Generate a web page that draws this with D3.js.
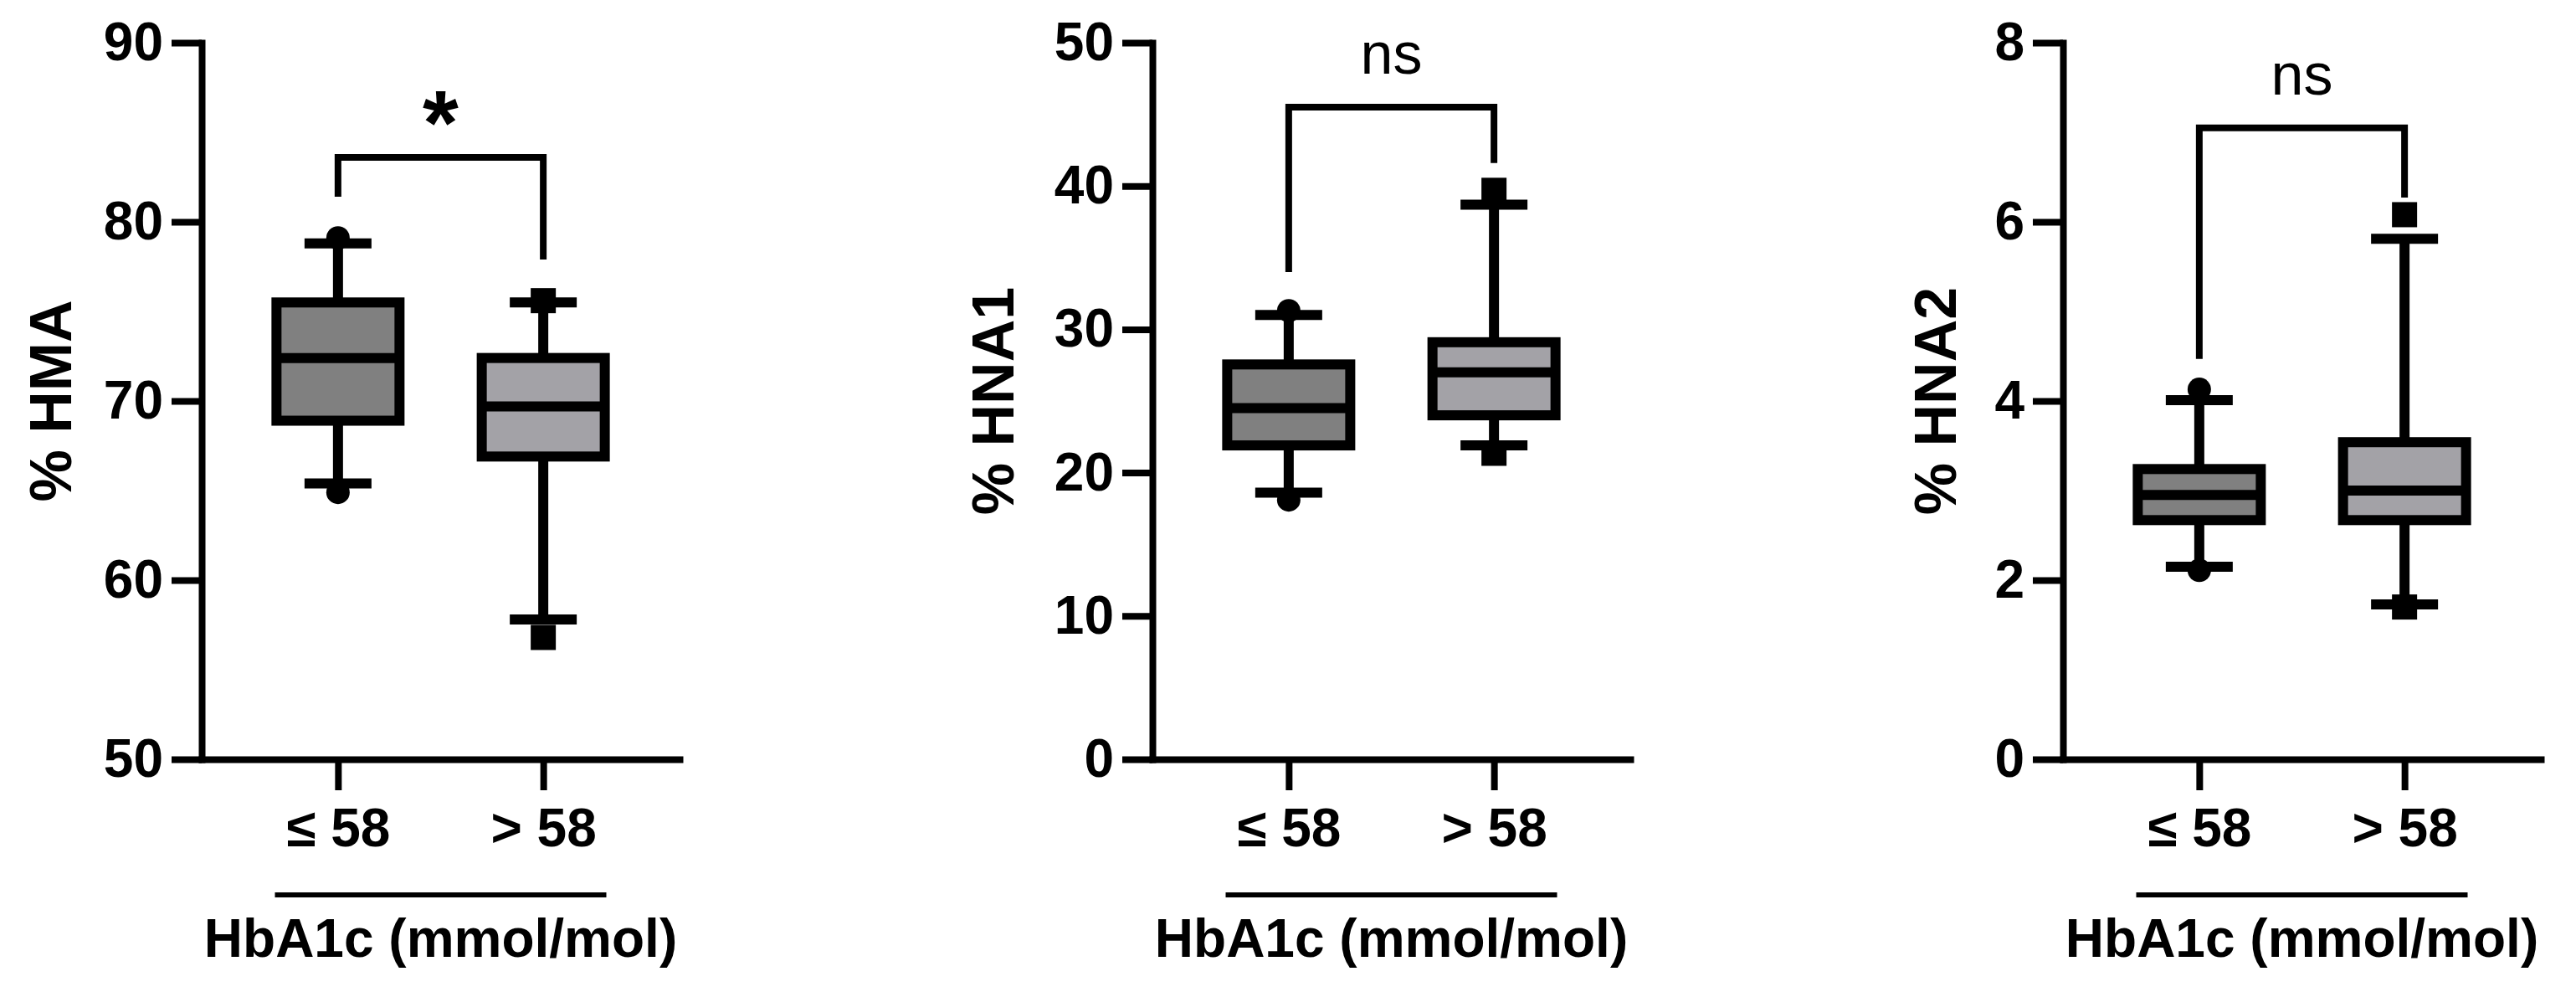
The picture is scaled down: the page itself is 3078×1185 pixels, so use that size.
<!DOCTYPE html>
<html>
<head>
<meta charset="utf-8">
<script src="https://cdn.jsdelivr.net/npm/d3@7"></script>
<style>
  body { margin: 0; background: #fff; }
  svg { display: block; }
</style>
</head>
<body>
<svg id="chart"></svg>
<script>
// categories shared by all three panels
const categories = ['≤ 58', '> 58'];
const xTitle = 'HbA1c (mmol/mol)';

// box stats: [whisker low, Q1, median, Q3, whisker high]
const hmaBoxes = [[65.4, 68.9, 72.4, 75.5, 78.8], [57.8, 66.9, 69.7, 72.4, 75.5]];
const hmaPoints = [[64.9, 79.1], [56.8, 75.6]];
const hmaTicks = [50, 60, 70, 80, 90];
const hmaBracket = [81.4, 83.6, 77.9]; // left foot, top, right foot

const hna1Boxes = [[18.6, 21.9, 24.5, 27.55, 31.0], [21.9, 24.0, 27.0, 29.1, 38.7]];
const hna1Points = [[18.1, 31.3], [21.35, 39.7]];
const hna1Ticks = [0, 10, 20, 30, 40, 50];
const hna1Bracket = [34.0, 45.5, 41.6];

const hna2Boxes = [[2.15, 2.67, 2.95, 3.24, 4.01], [1.73, 2.67, 3.0, 3.54, 5.81]];
const hna2Points = [[2.11, 4.13], [1.70, 6.08]];
const hna2Ticks = [0, 2, 4, 6, 8];
const hna2Bracket = [4.47, 7.05, 6.27];

const yLabels = ['% HMA', '% HNA1', '% HNA2'];
const sigLabels = ['*', 'ns', 'ns'];

const W = 3078, H = 1185;
const FONT = '"Liberation Sans", Arial, sans-serif';
const boxFills = ['#808080', '#a3a2a7'];

const panels = [
  { left: 241, labelOff: 156, boxes: hmaBoxes, points: hmaPoints, ticks: hmaTicks, bracket: hmaBracket },
  { left: 1377, labelOff: 166, boxes: hna1Boxes, points: hna1Points, ticks: hna1Ticks, bracket: hna1Bracket },
  { left: 2465, labelOff: 128, boxes: hna2Boxes, points: hna2Points, ticks: hna2Ticks, bracket: hna2Bracket }
];

const svg = d3.select('#chart')
  .attr('width', W)
  .attr('height', H)
  .style('background', '#fff');

const yTop = 51, yBot = 907, axisLen = 571;
const boxW = 147, capW = 80, lw = 12;

panels.forEach((p, i) => {
  const g = svg.append('g').attr('transform', `translate(${p.left},0)`);

  const y = d3.scaleLinear().domain(d3.extent(p.ticks)).range([yBot, yTop]);
  const x = d3.scalePoint().domain(categories).range([0, axisLen]).padding(0.664);

  // axes
  const yAxis = g.append('g')
    .call(d3.axisLeft(y).tickValues(p.ticks).tickSize(36).tickSizeOuter(0).tickPadding(10))
    .attr('font-family', FONT)
    .attr('font-size', 64)
    .attr('font-weight', 'bold');
  const xAxis = g.append('g')
    .attr('transform', `translate(0,${yBot})`)
    .call(d3.axisBottom(x).tickSize(37).tickSizeOuter(0).tickPadding(22))
    .attr('font-family', FONT)
    .attr('font-size', 64)
    .attr('font-weight', 'bold');
  [yAxis, xAxis].forEach(a => {
    a.select('.domain').attr('stroke', '#000').attr('stroke-width', 8).attr('stroke-linecap', 'square');
    a.selectAll('.tick line').attr('stroke', '#000').attr('stroke-width', 8);
    a.selectAll('.tick text').attr('fill', '#000');
  });

  // y title
  g.append('text')
    .attr('transform', `translate(${-p.labelOff},${(yTop + yBot) / 2}) rotate(-90)`)
    .attr('text-anchor', 'middle')
    .attr('font-family', FONT)
    .attr('font-size', 70)
    .attr('font-weight', 'bold')
    .text(yLabels[i]);

  // x title with line above it
  const mid = (x(categories[0]) + x(categories[1])) / 2;
  g.append('line')
    .attr('x1', mid - 198).attr('x2', mid + 198)
    .attr('y1', 1069).attr('y2', 1069)
    .attr('stroke', '#000').attr('stroke-width', 6);
  g.append('text')
    .attr('x', mid).attr('y', 1143)
    .attr('text-anchor', 'middle')
    .attr('font-family', FONT)
    .attr('font-size', 64)
    .attr('font-weight', 'bold')
    .text(xTitle);

  // boxes
  const bg = g.selectAll('.box')
    .data(p.boxes.map((b, j) => ({ cat: categories[j], b, pts: p.points[j], j })))
    .join('g')
    .attr('class', 'box');

  // whiskers
  bg.append('line')
    .attr('x1', d => x(d.cat)).attr('x2', d => x(d.cat))
    .attr('y1', d => y(d.b[0])).attr('y2', d => y(d.b[4]))
    .attr('stroke', '#000').attr('stroke-width', lw);
  bg.selectAll('.cap')
    .data(d => [d.b[0], d.b[4]].map(v => ({ v, cat: d.cat })))
    .join('line')
    .attr('class', 'cap')
    .attr('x1', d => x(d.cat) - capW / 2).attr('x2', d => x(d.cat) + capW / 2)
    .attr('y1', d => y(d.v)).attr('y2', d => y(d.v))
    .attr('stroke', '#000').attr('stroke-width', lw);

  bg.append('rect')
    .attr('x', d => x(d.cat) - boxW / 2)
    .attr('width', boxW)
    .attr('y', d => y(d.b[3]))
    .attr('height', d => y(d.b[1]) - y(d.b[3]))
    .attr('fill', d => boxFills[d.j])
    .attr('stroke', '#000')
    .attr('stroke-width', lw);
  bg.append('line')
    .attr('x1', d => x(d.cat) - boxW / 2).attr('x2', d => x(d.cat) + boxW / 2)
    .attr('y1', d => y(d.b[2])).attr('y2', d => y(d.b[2]))
    .attr('stroke', '#000').attr('stroke-width', lw);

  // extreme points: circles for first group, squares for second
  bg.each(function (d) {
    const sel = d3.select(this);
    d.pts.forEach(v => {
      if (d.j === 0) {
        sel.append('circle').attr('cx', x(d.cat)).attr('cy', y(v)).attr('r', 14).attr('fill', '#000');
      } else {
        sel.append('rect').attr('x', x(d.cat) - 15).attr('y', y(v) - 15)
          .attr('width', 30).attr('height', 30).attr('fill', '#000');
      }
    });
  });

  // significance bracket
  const br = p.bracket;
  const x0 = x(categories[0]), x1 = x(categories[1]);
  g.append('path')
    .attr('d', `M${x0},${y(br[0])}V${y(br[1])}H${x1}V${y(br[2])}`)
    .attr('fill', 'none')
    .attr('stroke', '#000')
    .attr('stroke-width', 8);
  const star = sigLabels[i] === '*';
  g.append('text')
    .attr('x', (x0 + x1) / 2)
    .attr('y', star ? y(br[1]) - 4 : y(br[1]) - 40)
    .attr('text-anchor', 'middle')
    .attr('font-family', FONT)
    .attr('font-size', star ? 110 : 70)
    .attr('font-weight', star ? 'bold' : 'normal')
    .text(sigLabels[i]);
});
</script>
</body>
</html>
